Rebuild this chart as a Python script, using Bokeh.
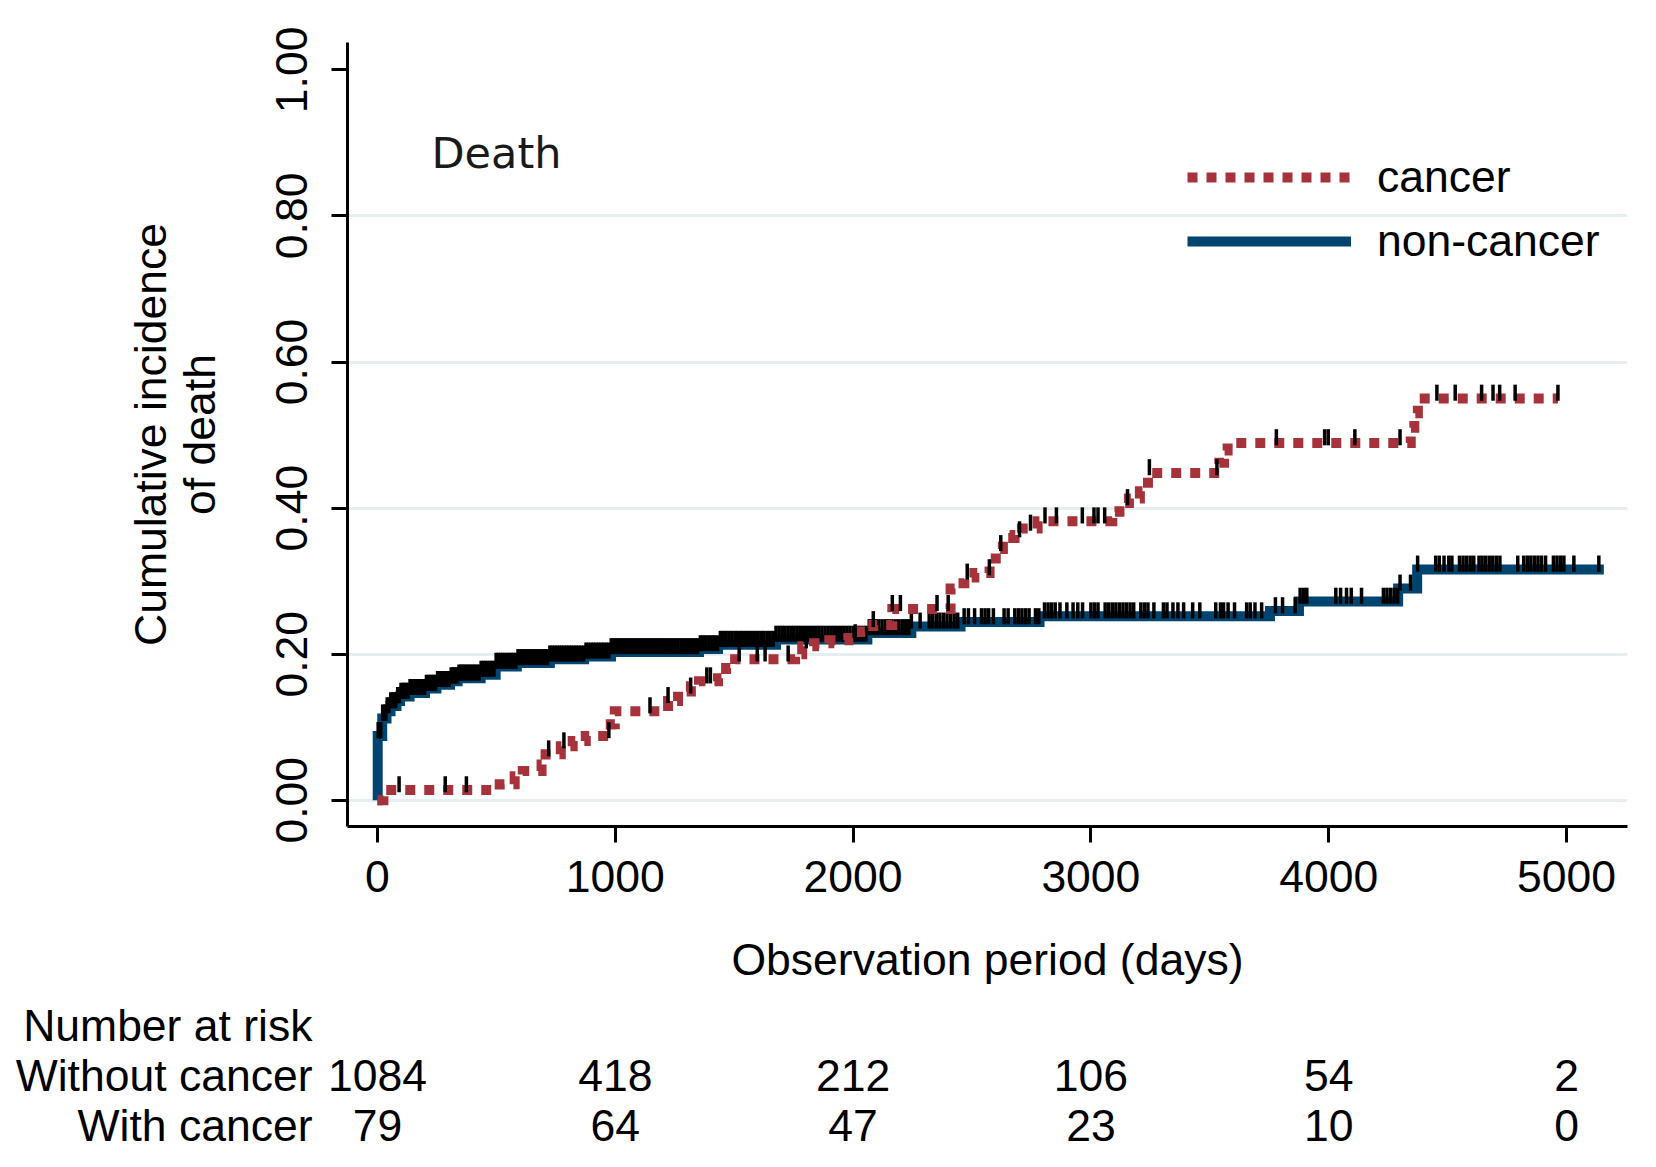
import numpy as np
from bokeh.plotting import figure
from bokeh.models import (Range1d, FactorRange, FixedTicker, NumeralTickFormatter,
                          Label, Legend, LegendItem)
from bokeh.layouts import column
from bokeh.embed import file_html
from bokeh.resources import INLINE
from bokeh.core.properties import value

# ---------------- data ----------------
noncancer_times = [0, 1, 20, 38, 55, 80, 95, 135, 200, 248, 305, 337, 434, 497,
                   586, 725, 869, 982, 1352, 1432, 1676, 2060, 2245, 2452, 2784,
                   3753, 3875, 4292, 4372, 5157]
noncancer_values = [0.000, 0.088, 0.112, 0.122, 0.129, 0.136, 0.142, 0.147, 0.153,
                    0.158, 0.163, 0.167, 0.172, 0.183, 0.188, 0.193, 0.197, 0.203,
                    0.207, 0.213, 0.220, 0.229, 0.238, 0.244, 0.252, 0.259, 0.272,
                    0.290, 0.316, 0.316]

cancer_times = [0, 25, 514, 577, 611, 690, 707, 771, 821, 876, 981, 998, 1222, 1264,
                1318, 1352, 1432, 1466, 1504, 1756, 1786, 1836, 1900, 1980, 2030,
                2085, 2165, 2410, 2440, 2468, 2510, 2574, 2600, 2630, 2679, 2710,
                2776, 3090, 3120, 3160, 3206, 3240, 3540, 3560, 3575, 4345, 4360,
                4375, 4964]
cancer_values = [0.000, 0.014, 0.022, 0.033, 0.040, 0.049, 0.063, 0.074, 0.081,
                 0.088, 0.104, 0.122, 0.136, 0.149, 0.156, 0.163, 0.167, 0.181,
                 0.193, 0.200, 0.211, 0.215, 0.219, 0.222, 0.231, 0.240, 0.262,
                 0.290, 0.297, 0.305, 0.311, 0.322, 0.344, 0.359, 0.363, 0.372,
                 0.382, 0.395, 0.407, 0.413, 0.423, 0.448, 0.462, 0.479, 0.489,
                 0.510, 0.530, 0.550, 0.550]

noncancer_censored = [
    3, 8, 14, 22, 29, 35, 41, 48, 56, 63, 70, 77, 85, 92, 99, 107, 114, 121, 129,
    137, 144, 152, 160, 167, 175, 183, 190, 198, 206, 214, 221, 229, 237, 245, 253,
    261, 269, 277, 285, 293, 301, 310, 318, 326, 334, 343, 351, 359, 368, 376, 385,
    393, 402, 410, 419, 428, 436, 445, 454, 463, 472, 481, 490, 499, 508, 517, 526,
    535, 545, 554, 563, 572, 582, 591, 600, 610, 619, 629, 638, 648, 657, 667, 677,
    686, 696, 706, 715, 725, 735, 745, 755, 765, 775, 785, 795, 805, 815, 826, 836,
    846, 856, 867, 877, 888, 898, 909, 919, 930, 940, 951, 962, 973, 983, 994, 1005,
    1016, 1027, 1038, 1049, 1060, 1071, 1082, 1093, 1104, 1115, 1127, 1138, 1149,
    1161, 1172, 1183, 1195, 1206, 1218, 1229, 1241, 1252, 1264, 1276, 1287, 1299,
    1311, 1322, 1334, 1346, 1358, 1370, 1382, 1394, 1406, 1418, 1430, 1442, 1454,
    1466, 1478, 1490, 1503, 1515, 1527, 1539, 1552, 1564, 1576, 1589, 1601, 1614,
    1626, 1639, 1651, 1664, 1676, 1689, 1702, 1714, 1727, 1740, 1752, 1765, 1778,
    1791, 1804, 1817, 1830, 1843, 1856, 1869, 1882, 1895, 1908, 1921, 1934, 1948,
    1961, 1974, 1987, 2001, 2014, 2027, 2041, 2054, 2068, 2081, 2095, 2108, 2122,
    2136, 2149, 2163, 2177, 2190,
    2205, 2215, 2225, 2235, 2245, 2282, 2320, 2335, 2350, 2365, 2380, 2395, 2410,
    2425, 2440, 2467, 2485, 2511, 2540, 2555, 2570, 2590, 2635, 2652, 2680, 2695,
    2710, 2725, 2740, 2767, 2781, 2805, 2820, 2835, 2850, 2870, 2899, 2925, 2945,
    2965, 3000, 3015, 3030, 3060, 3075, 3090, 3105, 3120, 3135, 3150, 3165, 3180,
    3210, 3225, 3240, 3265, 3305, 3320, 3345, 3366, 3390, 3428, 3458, 3525, 3545,
    3558, 3577, 3604, 3655, 3670, 3690, 3718, 3776, 3806, 3859, 3880, 3895, 3908,
    4030, 4050, 4075, 4095, 4138, 4230, 4245, 4260, 4275, 4290, 4300, 4344, 4374,
    4450, 4465, 4485, 4505, 4518, 4550, 4565, 4580, 4595, 4610, 4632, 4645, 4660,
    4675, 4690, 4705, 4720, 4795, 4820, 4835, 4850, 4865, 4880, 4895, 4912, 4945,
    4960, 4975, 4989, 5031, 5136]

cancer_censored = [91, 285, 374, 720, 784, 973, 1146, 1222, 1317, 1385, 1400, 1521,
                   1597, 1630, 1727, 1803, 2009, 2085, 2165, 2199, 2353, 2400, 2480,
                   2573, 2621, 2700, 2746, 2807, 2855, 2964, 3013, 3030, 3058, 3154,
                   3246, 3530, 3780, 3983, 3998, 4110, 4300, 4455, 4532, 4643, 4691,
                   4719, 4784, 4964]

x_ticks = [0, 1000, 2000, 3000, 4000, 5000]
y_ticks = [0.0, 0.2, 0.4, 0.6, 0.8, 1.0]
grid_ticks = [0.0, 0.2, 0.4, 0.6, 0.8]
series_labels = ["cancer", "non-cancer"]
risk_times = [0, 1000, 2000, 3000, 4000, 5000]
risk_without_cancer = [1084, 418, 212, 106, 54, 2]
risk_with_cancer = [79, 64, 47, 23, 10, 0]
risk_title = "Number at risk"
risk_row_labels = ["Without cancer", "With cancer"]
panel_text = "Death"
y_title = "Cumulative incidence\nof death"
x_title = "Observation period (days)"

# ---------------- styling / layout ----------------
FONT = "Liberation Sans"
FS = "44.5px"
RED = "#a6333b"
BLUE = "#00456f"
GRID = "#e6eff0"

W = 1640
H_MAIN = 1000
H_TAB = 150
FL, FR, FT, FB = 347, 1627, 42, 826
TAB_FL = 320
X0, X1 = -126.0, 5256.5
Y0, Y1 = -0.0359, 1.0374


def fx(px):
    return X0 + (px - FL) * (X1 - X0) / (FR - FL)


def fy(py):
    return Y0 + (FB - py) * (Y1 - Y0) / (FB - FT)


def step_at(times, vals, t):
    i = np.searchsorted(np.asarray(times), t, side="right") - 1
    return np.asarray(vals)[np.clip(i, 0, len(vals) - 1)]


p = figure(width=W, height=H_MAIN, x_range=Range1d(X0, X1), y_range=Range1d(Y0, Y1),
           output_backend="svg", toolbar_location=None,
           min_border_left=FL, min_border_right=W - FR,
           min_border_top=FT, min_border_bottom=H_MAIN - FB)
p.frame_align = False
p.outline_line_color = None
p.background_fill_color = "white"
p.border_fill_color = "white"

# grid
p.xgrid.visible = False
p.ygrid.ticker = FixedTicker(ticks=grid_ticks)
p.ygrid.grid_line_color = GRID
p.ygrid.grid_line_width = 3

# axes
for ax in (p.xaxis[0], p.yaxis[0]):
    ax.axis_line_width = 3
    ax.axis_line_color = "black"
    ax.major_tick_line_width = 3
    ax.major_tick_line_color = "black"
    ax.major_tick_out = 16
    ax.major_tick_in = 0
    ax.minor_tick_out = 0
    ax.minor_tick_in = 0
    ax.major_label_text_font = FONT
    ax.major_label_text_font_size = FS
    ax.major_label_text_color = "black"
    ax.axis_label_text_font = FONT
    ax.axis_label_text_font_size = FS
    ax.axis_label_text_font_style = "normal"
    ax.axis_label_text_color = "black"

p.xaxis.ticker = FixedTicker(ticks=x_ticks)
p.xaxis.major_label_standoff = 18
p.xaxis.axis_label = x_title
p.xaxis.axis_label_standoff = 40

p.yaxis.ticker = FixedTicker(ticks=y_ticks)
p.yaxis.formatter = NumeralTickFormatter(format="0.00")
p.yaxis.major_label_orientation = "vertical"
p.yaxis.major_label_standoff = 24
p.yaxis.axis_label = y_title
p.yaxis.axis_label_text_line_height = 1.0
p.yaxis.axis_label_standoff = 50

# curves
r_nc = p.step(noncancer_times, noncancer_values, mode="after", line_color=BLUE,
              line_width=10, line_join="miter")
nc_cy = step_at(noncancer_times, noncancer_values, noncancer_censored)
p.segment(x0=noncancer_censored, y0=nc_cy - 0.003, x1=noncancer_censored,
          y1=nc_cy + 0.019, line_color="black", line_width=3.5)

r_ca = p.step(cancer_times, cancer_values, mode="after", line_color=RED,
              line_width=10, line_dash="10 9", line_join="miter")
ca_cy = step_at(cancer_times, cancer_values, cancer_censored)
p.segment(x0=cancer_censored, y0=ca_cy - 0.003, x1=cancer_censored,
          y1=ca_cy + 0.019, line_color="black", line_width=3.5)

# legend
legend = Legend(items=[LegendItem(label=series_labels[0], renderers=[r_ca]),
                       LegendItem(label=series_labels[1], renderers=[r_nc])],
                location=(840, 560), glyph_width=164, glyph_height=50,
                label_height=50, label_standoff=26, spacing=14, padding=0,
                margin=0, border_line_color=None, background_fill_alpha=0,
                label_text_font=FONT, label_text_font_size=FS,
                label_text_color="black")
p.add_layout(legend)

# "Death" panel text
p.add_layout(Label(x=fx(431), y=fy(152), text=panel_text, text_font="DejaVu Sans",
                   text_font_size="43px", text_color="#1a1a1a",
                   text_align="left", text_baseline="middle"))

# ---------------- number-at-risk table ----------------
row_factors = [risk_row_labels[1], risk_row_labels[0], risk_title]
t = figure(width=W, height=H_TAB, x_range=Range1d(fx(TAB_FL), X1),
           y_range=FactorRange(factors=row_factors),
           output_backend="svg", toolbar_location=None, title=None,
           x_axis_type=None, min_border_left=TAB_FL, min_border_right=W - FR,
           min_border_top=0, min_border_bottom=0)
t.frame_align = False
t.outline_line_color = None
t.grid.visible = False
t.yaxis.axis_line_color = None
t.yaxis.major_tick_line_color = None
t.yaxis.minor_tick_line_color = None
t.yaxis.major_tick_out = 0
t.yaxis.major_tick_in = 0
t.yaxis.major_label_standoff = 8
t.yaxis.major_label_text_font = FONT
t.yaxis.major_label_text_font_size = FS
t.yaxis.major_label_text_color = "black"

t.text(x=risk_times, y=[risk_row_labels[0]] * len(risk_times),
       text=[str(v) for v in risk_without_cancer], text_font=value(FONT),
       text_font_size=FS, text_align="center", text_baseline="middle",
       text_color="black")
t.text(x=risk_times, y=[risk_row_labels[1]] * len(risk_times),
       text=[str(v) for v in risk_with_cancer], text_font=value(FONT),
       text_font_size=FS, text_align="center", text_baseline="middle",
       text_color="black")

layout = column(p, t, spacing=0)
open("out.html", "w").write(file_html(layout, INLINE))
